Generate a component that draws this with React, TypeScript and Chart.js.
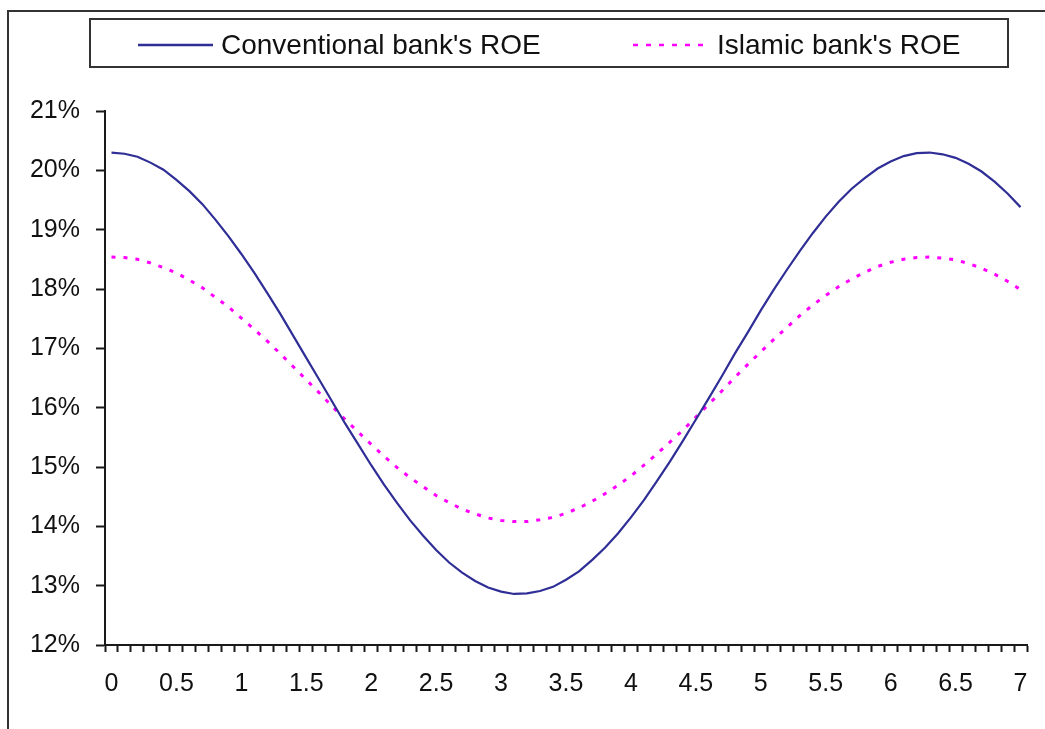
import React, { useEffect, useRef } from "react";
import { Chart, registerables } from "chart.js";

Chart.register(...registerables);

const categories: number[] = [
  0, 0.1, 0.2, 0.3, 0.4, 0.5, 0.6, 0.7, 0.8, 0.9,
  1, 1.1, 1.2, 1.3, 1.4, 1.5, 1.6, 1.7, 1.8, 1.9,
  2, 2.1, 2.2, 2.3, 2.4, 2.5, 2.6, 2.7, 2.8, 2.9,
  3, 3.1, 3.2, 3.3, 3.4, 3.5, 3.6, 3.7, 3.8, 3.9,
  4, 4.1, 4.2, 4.3, 4.4, 4.5, 4.6, 4.7, 4.8, 4.9,
  5, 5.1, 5.2, 5.3, 5.4, 5.5, 5.6, 5.7, 5.8, 5.9,
  6, 6.1, 6.2, 6.3, 6.4, 6.5, 6.6, 6.7, 6.8, 6.9,
  7,
];

const tickLabels: string[] = ["0", "0.5", "1", "1.5", "2", "2.5", "3", "3.5", "4", "4.5", "5", "5.5", "6", "6.5", "7"];

const conventionalROE: number[] = [
  20.30, 20.28, 20.23, 20.13, 20.01, 19.84, 19.65, 19.43, 19.17, 18.89,
  18.59, 18.27, 17.93, 17.58, 17.21, 16.84, 16.47, 16.10, 15.73, 15.38,
  15.03, 14.70, 14.39, 14.10, 13.84, 13.60, 13.39, 13.22, 13.08, 12.97,
  12.90, 12.86, 12.87, 12.91, 12.98, 13.10, 13.24, 13.43, 13.64, 13.88,
  14.15, 14.44, 14.76, 15.09, 15.44, 15.80, 16.16, 16.53, 16.91, 17.27,
  17.64, 17.99, 18.32, 18.64, 18.94, 19.22, 19.47, 19.69, 19.87, 20.03,
  20.15, 20.24, 20.29, 20.30, 20.27, 20.21, 20.11, 19.98, 19.81, 19.61,
  19.38,
];

const islamicROE: number[] = [
  18.54, 18.53, 18.50, 18.44, 18.36, 18.27, 18.15, 18.02, 17.86, 17.70,
  17.51, 17.32, 17.12, 16.91, 16.69, 16.47, 16.25, 16.02, 15.80, 15.59,
  15.38, 15.18, 14.99, 14.82, 14.67, 14.52, 14.40, 14.29, 14.21, 14.14,
  14.10, 14.08, 14.08, 14.11, 14.15, 14.22, 14.31, 14.42, 14.55, 14.69,
  14.85, 15.03, 15.22, 15.42, 15.62, 15.84, 16.06, 16.28, 16.51, 16.73,
  16.94, 17.15, 17.35, 17.55, 17.73, 17.89, 18.04, 18.17, 18.28, 18.38,
  18.45, 18.50, 18.53, 18.54, 18.52, 18.49, 18.43, 18.35, 18.25, 18.13,
  17.99,
];

const seriesNames = ["Conventional bank's ROE", "Islamic bank's ROE"];

const NAVY = "#2E2E96";
const MAGENTA = "#FF00FF";
const AXIS = "#1a1a1a";
const FONT = "'Liberation Sans', Arial, sans-serif";

const framePlugin = {
  id: "frameAndLegend",
  afterDraw(chart: any) {
    const ctx = chart.ctx as CanvasRenderingContext2D;
    ctx.save();
    // outer chart frame
    ctx.strokeStyle = "#333";
    ctx.lineWidth = 2;
    ctx.strokeRect(8, 11, 1100, 800);
    // legend box
    ctx.fillStyle = "#fff";
    ctx.fillRect(90, 19, 918, 48);
    ctx.strokeRect(90, 19, 918, 48);
    const ds = chart.data.datasets;
    ctx.font = `28px ${FONT}`;
    ctx.textBaseline = "middle";
    ctx.fillStyle = "#111";
    // item 1
    ctx.strokeStyle = ds[0].borderColor;
    ctx.lineWidth = 2.5;
    ctx.setLineDash([]);
    ctx.beginPath();
    ctx.moveTo(138, 45);
    ctx.lineTo(213, 45);
    ctx.stroke();
    ctx.fillText(ds[0].label, 221, 46);
    // item 2
    ctx.strokeStyle = ds[1].borderColor;
    ctx.lineWidth = 2.5;
    ctx.setLineDash([5, 8]);
    ctx.beginPath();
    ctx.moveTo(633, 45);
    ctx.lineTo(706, 45);
    ctx.stroke();
    ctx.setLineDash([]);
    ctx.fillText(ds[1].label, 717, 46);
    ctx.restore();
  },
};

export default function App() {
  const canvasRef = useRef<HTMLCanvasElement | null>(null);

  useEffect(() => {
    document.body.style.margin = "0";
    const canvas = canvasRef.current;
    if (!canvas) return;
    const chart = new Chart(canvas, {
      type: "line",
      data: {
        labels: categories.map((c) => String(c)),
        datasets: [
          {
            label: seriesNames[0],
            data: conventionalROE,
            borderColor: NAVY,
            borderWidth: 2.2,
            pointRadius: 0,
            tension: 0,
            fill: false,
          },
          {
            label: seriesNames[1],
            data: islamicROE,
            borderColor: MAGENTA,
            borderWidth: 3,
            borderDash: [4, 8],
            pointRadius: 0,
            tension: 0,
            fill: false,
          },
        ],
      },
      options: {
        responsive: false,
        animation: false,
        layout: { padding: { top: 111, right: 18, bottom: 0, left: 0 } },
        plugins: {
          legend: { display: false },
          tooltip: { enabled: false },
          title: { display: false },
        },
        scales: {
          x: {
            type: "category",
            offset: true,
            grid: {
              offset: true,
              drawOnChartArea: false,
              drawTicks: true,
              tickLength: 7,
              tickWidth: 2,
              tickColor: AXIS,
            },
            border: { display: true, color: AXIS, width: 2 },
            ticks: {
              autoSkip: false,
              maxRotation: 0,
              minRotation: 0,
              padding: 17,
              color: "#111",
              font: { family: FONT, size: 25 },
              callback: (_v: any, idx: number) => (idx % 5 === 0 ? tickLabels[idx / 5] : ""),
            },
            afterFit: (scale: any) => {
              scale.height = 84;
            },
          },
          y: {
            min: 12,
            max: 21,
            grid: {
              drawOnChartArea: false,
              drawTicks: true,
              tickLength: 9,
              tickWidth: 2,
              tickColor: AXIS,
            },
            border: { display: true, color: AXIS, width: 2 },
            ticks: {
              stepSize: 1,
              padding: 16,
              color: "#111",
              font: { family: FONT, size: 25 },
              callback: (v: any) => `${v}%`,
            },
            afterFit: (scale: any) => {
              scale.width = 105;
            },
          },
        },
      },
      plugins: [framePlugin],
    });
    return () => chart.destroy();
  }, []);

  return (
    <div style={{ width: 1045, height: 729, background: "#fff" }}>
      <canvas ref={canvasRef} width={1045} height={729} />
    </div>
  );
}
